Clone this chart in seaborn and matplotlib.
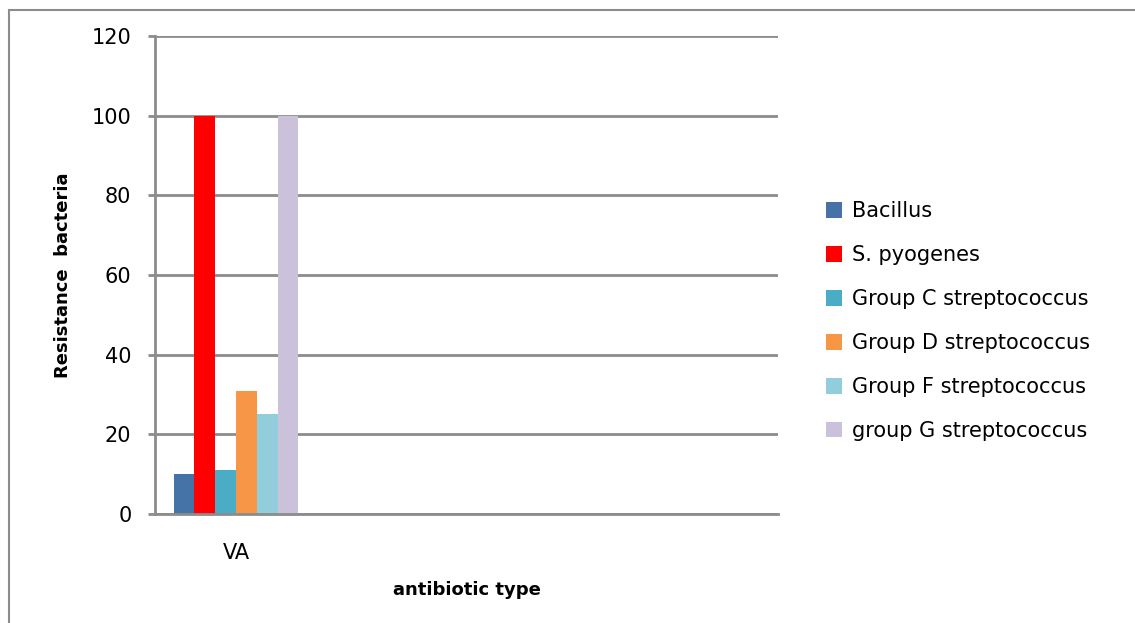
import matplotlib
matplotlib.use("Agg")
import matplotlib.pyplot as plt
import seaborn as sns
import pandas as pd
from matplotlib.patches import Rectangle

# Resistance (%) of each organism to the antibiotic VA
antibiotics = ["VA"]
category_slots = ["VA", "slot2", "slot3", "slot4"]
tick_labels = ["VA", "", "", ""]
organisms = ["Bacillus", "S. pyogenes", "Group C streptococcus",
             "Group D streptococcus", "Group F streptococcus",
             "group G streptococcus"]
resistance = [10, 100, 11, 31, 25, 100]
colors = ["#4572A7", "#FF0000", "#4BACC6", "#F79646", "#92CDDC", "#CCC1DA"]
y_ticks = [0, 20, 40, 60, 80, 100, 120]

df = pd.DataFrame({
    "antibiotic": antibiotics * len(organisms),
    "organism": organisms,
    "resistance": resistance,
})

sns.set_theme(style="white")
plt.rcParams["font.family"] = ["DejaVu Sans"]
plt.rcParams["text.color"] = "black"
plt.rcParams["axes.labelcolor"] = "black"
plt.rcParams["xtick.color"] = "black"
plt.rcParams["ytick.color"] = "black"

W, H = 1135, 623
fig = plt.figure(figsize=(W / 100, H / 100), dpi=100)
ax = fig.add_axes([155 / W, 109 / H, 623 / W, 478 / H])

sns.barplot(data=df, x="antibiotic", y="resistance", hue="organism",
            order=category_slots, hue_order=organisms, palette=colors,
            width=0.8, gap=0, saturation=1, linewidth=0, ax=ax)

grid_color = "#8C8C8C"
ax.set_ylim(0, 120)
ax.set_xlim(-0.52, 3.48)
ax.set_yticks(y_ticks)
ax.set_yticklabels([str(v) for v in y_ticks], fontsize=15)
ax.set_xticks(range(len(category_slots)))
ax.set_xticklabels(tick_labels, fontsize=15)
ax.yaxis.grid(True, color=grid_color, linewidth=2)
ax.set_axisbelow(True)
ax.tick_params(axis="y", length=5, width=2, color=grid_color, labelcolor="black",
               pad=12, left=True, direction="out")
ax.tick_params(axis="x", length=0, pad=21, labelcolor="black")

for side in ["top", "right"]:
    ax.spines[side].set_visible(False)
for side in ["left", "bottom"]:
    ax.spines[side].set_color(grid_color)
    ax.spines[side].set_linewidth(2)

ax.set_ylabel("Resistance  bacteria", fontsize=13, fontweight="bold", labelpad=14)
ax.set_xlabel("antibiotic type", fontsize=13, fontweight="bold", labelpad=13)

leg = ax.legend(loc="upper left", bbox_to_anchor=(818 / W, 1 - 193 / H),
                bbox_transform=fig.transFigure, frameon=False, fontsize=15,
                handlelength=0.75, handleheight=0.75, handletextpad=0.5,
                labelspacing=1.15, borderaxespad=0)

# outer chart frame
fig.patches.append(Rectangle((9 / W, -0.1), 1.2, 1 - 10 / H + 0.1,
                             transform=fig.transFigure, fill=False,
                             edgecolor=grid_color, linewidth=1.5))

fig.savefig("out.png", dpi=100)
